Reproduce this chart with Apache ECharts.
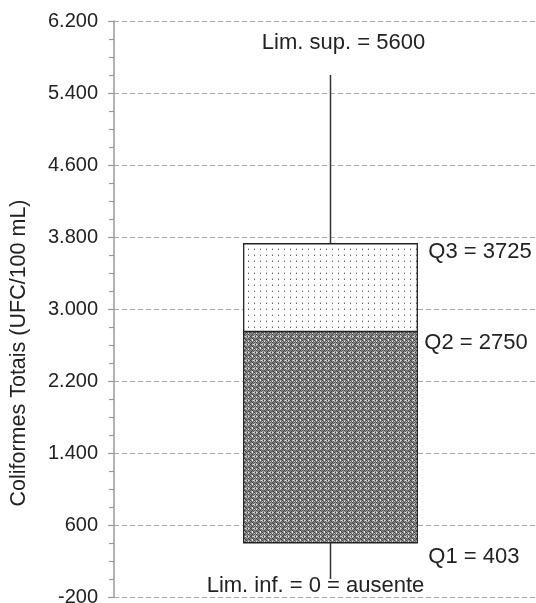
<!DOCTYPE html>
<html>
<head>
<meta charset="utf-8">
<script src="https://cdn.jsdelivr.net/npm/echarts@6/dist/echarts.min.js"></script>
<style>
html,body{margin:0;padding:0;background:#fff;}
#chart{width:536px;height:603px;}
</style>
</head>
<body>
<div id="chart"></div>
<script>
// ---- data ----
const categories = ['Coliformes Totais'];
const limInf = [0];
const q1Values = [403];
const q2Values = [2750];
const q3Values = [3725];
const limSup = [5600];
const yTicks = [-200, 600, 1400, 2200, 3000, 3800, 4600, 5400, 6200];
const axisName = 'Coliformes Totais (UFC/100 mL)';
const labelTexts = {
  sup: 'Lim. sup. = ' + limSup[0],
  q3: 'Q3 = ' + q3Values[0],
  q2: 'Q2 = ' + q2Values[0],
  q1: 'Q1 = ' + q1Values[0],
  inf: 'Lim. inf. = ' + limInf[0] + ' = ausente'
};

// ---- patterns (style only) ----
function makeTile(rows, palette) {
  const c = document.createElement('canvas');
  c.width = rows[0].length; c.height = rows.length;
  const ctx = c.getContext('2d');
  for (let y = 0; y < rows.length; y++) {
    for (let x = 0; x < rows[y].length; x++) {
      ctx.fillStyle = palette[rows[y][x]];
      ctx.fillRect(x, y, 1, 1);
    }
  }
  return c;
}
const darkTile = makeTile([
  'wlkdlwlk',
  'ldgkgdlg',
  'kgdgkgdg',
  'dkglwkgd',
  'lgkgwgkg',
  'wdldgdld',
  'kgdgkgdg',
  'ldgkgdlg'
], {w:'#e6e6e6', l:'#b0b0b0', g:'#848484', d:'#6a6a6a', k:'#404040'});
const lightTile = makeTile([
  '......',
  '......',
  '..s...',
  '..o...',
  '......',
  '......'
], {'.':'#ffffff', s:'#c0c0c0', o:'#6a6a6a'});
const darkFill = {type:'pattern', image: darkTile, repeat: 'repeat'};
const lightFill = {type:'pattern', image: lightTile, repeat: 'repeat'};

function fmt(v) {
  const s = Math.abs(v).toString();
  const withDots = s.replace(/\B(?=(\d{3})+(?!\d))/g, '.');
  return (v < 0 ? '-' : '') + withDots;
}

const seriesData = categories.map((c, i) => [i, limInf[i], q1Values[i], q2Values[i], q3Values[i], limSup[i]]);
const FAMILY = '"Liberation Sans", Arial, sans-serif';
const FONT = '22px ' + FAMILY;
const TXT = '#222';

function renderItem(params, api) {
  const x = api.value(0);
  const pLow = api.coord([x, api.value(1)]);
  const pQ1 = api.coord([x, api.value(2)]);
  const pQ2 = api.coord([x, api.value(3)]);
  const pQ3 = api.coord([x, api.value(4)]);
  const pHigh = api.coord([x, api.value(5)]);
  const bw = api.size([1, 0])[0] * 0.401;
  const cx = pQ1[0];
  const left = cx - bw / 2;
  const lineStyle = {stroke: '#333', lineWidth: 1.5};
  return {
    type: 'group',
    children: [
      {type: 'line', shape: {x1: cx, y1: pQ3[1], x2: cx, y2: pHigh[1]}, style: lineStyle},
      {type: 'line', shape: {x1: cx, y1: pQ1[1], x2: cx, y2: pLow[1]}, style: lineStyle},
      {type: 'rect', shape: {x: left, y: pQ2[1], width: bw, height: pQ1[1] - pQ2[1]},
        style: {fill: darkFill, stroke: '#222', lineWidth: 1.3}},
      {type: 'rect', shape: {x: left, y: pQ3[1], width: bw, height: pQ2[1] - pQ3[1]},
        style: {fill: lightFill, stroke: '#222', lineWidth: 1.3}},
      {type: 'text', x: cx + 13, y: pHigh[1] - 32,
        style: {text: labelTexts.sup, font: FONT, fill: TXT, align: 'center', verticalAlign: 'middle'}},
      {type: 'text', x: left + bw + 11, y: pQ3[1] + 8,
        style: {text: labelTexts.q3, font: FONT, fill: TXT, align: 'left', verticalAlign: 'middle'}},
      {type: 'text', x: left + bw + 7, y: pQ2[1] + 11,
        style: {text: labelTexts.q2, font: FONT, fill: TXT, align: 'left', verticalAlign: 'middle'}},
      {type: 'text', x: left + bw + 11, y: pQ1[1] + 14,
        style: {text: labelTexts.q1, font: FONT, fill: TXT, align: 'left', verticalAlign: 'middle'}},
      {type: 'text', x: cx - 15, y: pLow[1] + 7,
        style: {text: labelTexts.inf, font: FONT, fill: TXT, align: 'center', verticalAlign: 'middle'}}
    ]
  };
}

const chart = echarts.init(document.getElementById('chart'));
chart.setOption({
  animation: false,
  backgroundColor: '#fff',
  grid: {left: 114, right: -11, top: 21, bottom: 6, outerBoundsMode: 'none'},
  xAxis: {
    type: 'category',
    data: categories,
    show: false
  },
  yAxis: {
    type: 'value',
    min: yTicks[0],
    max: yTicks[yTicks.length - 1],
    interval: yTicks[1] - yTicks[0],
    name: axisName,
    nameLocation: 'middle',
    nameGap: 84,
    nameTextStyle: {fontSize: 21.5, color: TXT, fontFamily: FAMILY, padding: [0, 88, 0, 0]},
    axisLine: {show: true, lineStyle: {color: '#999', width: 1.5}},
    axisTick: {show: true, length: 6, lineStyle: {color: '#999', width: 1.2}},
    minorTick: {show: true, splitNumber: 4, length: 5, lineStyle: {color: '#999', width: 1.2}},
    axisLabel: {fontSize: 20, color: TXT, margin: 16, fontFamily: FAMILY, formatter: fmt},
    splitLine: {show: true, lineStyle: {color: '#aaa', type: [5, 3], width: 1.2}}
  },
  series: [{
    type: 'custom',
    renderItem: renderItem,
    data: seriesData,
    encode: {x: 0, y: [1, 2, 3, 4, 5]},
    clip: false
  }]
});
</script>
</body>
</html>
